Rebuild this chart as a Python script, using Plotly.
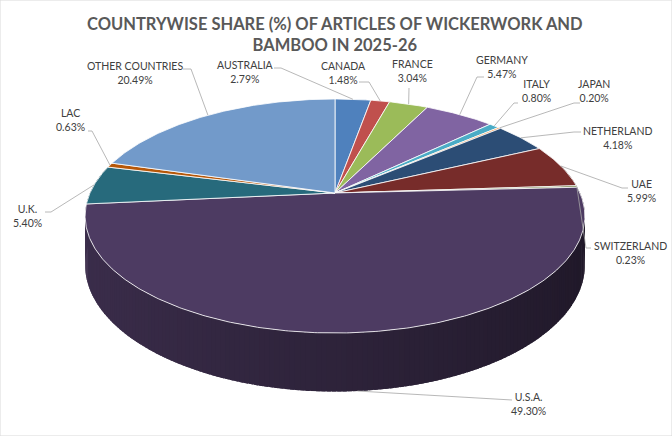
import math
import plotly.graph_objects as go

# slices in drawing order (clockwise from 12 o'clock)
countries = ["AUSTRALIA", "CANADA", "FRANCE", "GERMANY", "ITALY", "JAPAN", "NETHERLAND",
             "UAE", "SWITZERLAND", "U.S.A.", "U.K.", "LAC", "OTHER COUNTRIES"]
shares = [2.79, 1.48, 3.04, 5.47, 0.80, 0.20, 4.18, 5.99, 0.23, 49.30, 5.40, 0.63, 20.49]
colors = ["#4F81BD", "#C0504D", "#9BBB59", "#8064A2", "#4BACC6", "#F79646", "#2C4D75",
          "#772C2A", "#5F7530", "#4D3B62", "#276A7C", "#B65708", "#729ACA"]
title = "COUNTRYWISE SHARE (%) OF ARTICLES OF WICKERWORK AND<br>BAMBOO IN 2025-26"

# label layout (pixels): text centre, leader elbow, leader stub end
label_xy = [(245, 72), (343, 73), (412, 71), (502, 67), (536, 91), (594, 91), (617, 138),
            (641, 191), (630, 253), (528, 404), (27, 216), (70, 120), (135, 73)]
elbow_xy = [(281, 68), (369, 82), (409, 88), (477, 77), (514, 103), (574, 103), (574, 132),
            (622, 188), (586, 248), (505, 400), (51, 212), (92, 131), (191, 69)]
stub_xy = [(274, 68), (359, 82), (409, 88), (484, 77), (518, 103), (580, 103), (581, 132),
           (628, 188), (591, 248), (512, 400), (45, 212), (88, 131), (183, 69)]

W, H = 672, 436
CX, CY = 335, 193       # centre of the top face
RX, RY = 245, 112.5     # radii of the top face
PERS = 0.1966           # perspective strength
DEPTH = 47              # thickness of the pie


def project(t_deg, z):
    """t_deg clockwise from top, z=0 top face, z=1 bottom"""
    t = math.radians(t_deg)
    d = math.cos(t)
    w = 1 + PERS * d
    return CX + RX * math.sin(t) / w, CY + (-RY * d + DEPTH * z) / w


def shade(hex_color, f):
    r, g, b = int(hex_color[1:3], 16), int(hex_color[3:5], 16), int(hex_color[5:7], 16)
    return "rgb({},{},{})".format(int(r * f), int(g * f), int(b * f))


total = sum(shares)
bounds = []
acc = 0.0
for v in shares:
    bounds.append((acc / total * 360, (acc + v) / total * 360))
    acc += v

fig = go.Figure()

# side walls, split in small overlapping pieces so they can be shaded
pieces = []
for i, (a0, a1) in enumerate(bounds):
    n = max(1, int(math.ceil((a1 - a0) / 1.0)))
    for k in range(n):
        t0 = a0 + (a1 - a0) * k / n
        t1 = a0 + (a1 - a0) * (k + 1) / n
        tm = (t0 + t1) / 2
        if math.cos(math.radians(tm)) > 0.25:
            continue
        if k < n - 1:
            t1 += 0.8   # overlap the next piece to hide seams
        pieces.append((math.cos(math.radians(tm)), i, t0, t1, tm))
pieces.sort(key=lambda p: -p[0])
for _, i, t0, t1, tm in pieces:
    xs, ys = [], []
    for t in [t0 + (t1 - t0) * j / 2 for j in range(3)]:
        x, y = project(t, 0)
        xs.append(x)
        ys.append(y)
    for t in [t1 - (t1 - t0) * j / 2 for j in range(3)]:
        x, y = project(t, 1)
        xs.append(x)
        ys.append(y)
    c = shade(colors[i], 0.6 - 0.18 * math.sin(math.radians(tm)))
    fig.add_trace(go.Scatter(x=xs, y=ys, mode="lines", fill="toself", fillcolor=c,
                             line=dict(width=0), hoverinfo="skip", showlegend=False))

# top faces
for i, (a0, a1) in enumerate(bounds):
    n = max(2, int((a1 - a0) / 0.5))
    xs, ys = [CX], [CY]
    for j in range(n + 1):
        x, y = project(a0 + (a1 - a0) * j / n, 0)
        xs.append(x)
        ys.append(y)
    xs.append(CX)
    ys.append(CY)
    fig.add_trace(go.Scatter(x=xs, y=ys, mode="lines", fill="toself", fillcolor=colors[i],
                             line=dict(color="rgba(255,255,255,0.9)", width=0.9),
                             name=countries[i], text="{}<br>{:.2f}%".format(countries[i], shares[i]),
                             hoverinfo="text", showlegend=False))

# leader lines and labels
for i, (a0, a1) in enumerate(bounds):
    tm = (a0 + a1) / 2
    front = 90 < tm < 270
    ax, ay = project(tm, 1 if front else 0)
    fig.add_trace(go.Scatter(x=[ax, elbow_xy[i][0], stub_xy[i][0]],
                             y=[ay, elbow_xy[i][1], stub_xy[i][1]],
                             mode="lines", line=dict(color="#A6A6A6", width=0.8),
                             hoverinfo="skip", showlegend=False))
    fig.add_annotation(x=label_xy[i][0], y=label_xy[i][1],
                       text="{}<br>{:.2f}%".format(countries[i], shares[i]),
                       showarrow=False, xanchor="center", yanchor="middle",
                       font=dict(family="Lato", size=10.5, color="#404040"))

fig.add_annotation(x=335, y=34, text="<b>" + title + "</b>", showarrow=False,
                   xanchor="center", yanchor="middle",
                   font=dict(family="Lato", size=16.5, color="#595959"))

fig.add_shape(type="rect", xref="paper", yref="paper", x0=0, y0=0, x1=1, y1=1,
              line=dict(color="#D9D9D9", width=1))

fig.update_xaxes(range=[0, W], visible=False, fixedrange=True)
fig.update_yaxes(range=[H, 0], visible=False, fixedrange=True)
fig.update_layout(width=W, height=H, margin=dict(l=0, r=0, t=0, b=0),
                  paper_bgcolor="white", plot_bgcolor="white", showlegend=False)

fig.write_html("out.html", config={"displayModeBar": False},
               post_script="document.body.style.margin='0';document.body.style.overflow='hidden';")
